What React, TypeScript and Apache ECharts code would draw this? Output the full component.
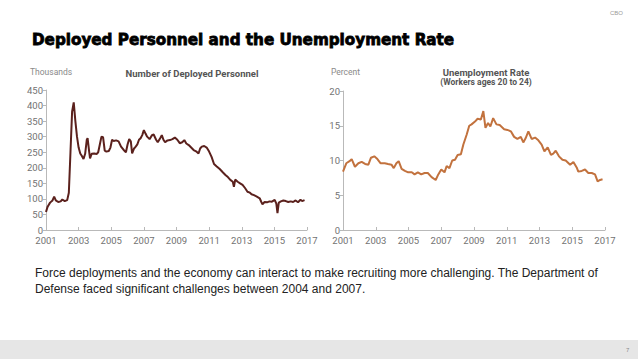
import React, { useEffect, useRef } from "react";
import * as echarts from "echarts";

// Deployed personnel (thousands), decimal year
const deployedYears = [
  2001.0, 2001.1, 2001.25, 2001.4, 2001.5, 2001.6, 2001.75, 2001.9, 2002.0, 2002.15, 2002.3, 2002.4, 2002.5, 2002.6,
  2002.7, 2002.8, 2002.9, 2003.0, 2003.1, 2003.2, 2003.3, 2003.4, 2003.5, 2003.55, 2003.65, 2003.7, 2003.8, 2003.95,
  2004.1, 2004.2, 2004.3, 2004.4, 2004.5, 2004.6, 2004.7, 2004.85, 2004.95, 2005.05, 2005.15, 2005.3, 2005.45, 2005.6,
  2005.75, 2005.9, 2006.0, 2006.1, 2006.2, 2006.28, 2006.4, 2006.5, 2006.6, 2006.7, 2006.8, 2006.9, 2007.0, 2007.1,
  2007.2, 2007.35, 2007.5, 2007.6, 2007.75, 2007.85, 2008.0, 2008.1, 2008.2, 2008.3, 2008.45, 2008.6, 2008.75, 2008.9,
  2009.05, 2009.2, 2009.35, 2009.48, 2009.6, 2009.75, 2009.9, 2010.05, 2010.2, 2010.35, 2010.45, 2010.55, 2010.7,
  2010.85, 2011.0, 2011.15, 2011.3, 2011.45, 2011.65, 2011.85, 2012.0, 2012.15, 2012.3, 2012.45, 2012.52, 2012.6,
  2012.75, 2012.9, 2013.05, 2013.2, 2013.35, 2013.5, 2013.6, 2013.75, 2013.9, 2014.1, 2014.2, 2014.27, 2014.4, 2014.55,
  2014.7, 2014.85, 2015.02, 2015.12, 2015.19, 2015.27, 2015.4, 2015.55, 2015.7, 2015.85, 2016.0, 2016.15, 2016.3,
  2016.45, 2016.6, 2016.7, 2016.85,
];
const deployedValues = [
  58, 75, 88, 95, 107, 95, 90, 92, 98, 93, 96, 120, 250, 380,
  410, 350, 300, 265, 246, 238, 228, 245, 290, 295, 250, 230, 245, 246,
  244, 250, 275, 300, 298, 255, 252, 254, 265, 290, 286, 288, 285, 268,
  258, 250, 275, 292, 285, 246, 262, 268, 275, 290, 295, 305, 321, 310,
  300, 292, 305, 307, 290, 282, 295, 305, 290, 282, 288, 289, 292, 297,
  290, 279, 282, 289, 278, 273, 265, 257, 253, 246, 262, 268, 270,
  265, 252, 235, 212, 205, 196, 185, 177, 170, 161, 155, 139, 162,
  155, 150, 145, 135, 123, 120, 115, 112, 108, 102, 90, 83, 90, 89,
  92, 91, 97, 85, 54, 88, 92, 95, 93, 90, 92, 90, 95,
  89, 97, 93, 96,
];

// Unemployment rate, workers ages 20 to 24 (percent)
const unempYears = [
  2001.0, 2001.2, 2001.4, 2001.53, 2001.73, 2001.94, 2002.14, 2002.35, 2002.55, 2002.71, 2002.91, 2003.1, 2003.3,
  2003.55, 2003.75, 2003.96, 2004.1, 2004.26, 2004.4, 2004.58, 2004.78, 2004.98, 2005.2, 2005.37, 2005.57, 2005.78,
  2005.98, 2006.18, 2006.41, 2006.66, 2006.82, 2007.0, 2007.2, 2007.33, 2007.5, 2007.67, 2007.84, 2008.0, 2008.2,
  2008.35, 2008.55, 2008.71, 2008.85, 2009.06, 2009.22, 2009.42, 2009.57, 2009.7, 2009.86, 2010.0, 2010.17, 2010.37,
  2010.57, 2010.84, 2011.04, 2011.25, 2011.45, 2011.65, 2011.86, 2012.01, 2012.15, 2012.32, 2012.52, 2012.73, 2012.93,
  2013.13, 2013.3, 2013.5, 2013.7, 2013.84, 2013.99, 2014.19, 2014.4, 2014.6, 2014.87, 2015.07, 2015.27, 2015.37,
  2015.58, 2015.78, 2015.98, 2016.19, 2016.39, 2016.55, 2016.7, 2016.85,
];
const unempValues = [
  8.4, 9.6, 9.9, 10.2, 9.1, 9.6, 9.8, 9.5, 9.4, 10.4, 10.6, 10.2, 9.6,
  9.6, 9.5, 9.4, 8.9, 9.6, 9.9, 8.8, 8.5, 8.3, 8.3, 8.0, 8.3, 8.0,
  8.2, 8.2, 7.6, 7.2, 8.0, 8.7, 8.3, 9.2, 8.9, 10.0, 10.1, 10.8, 10.9,
  12.3, 13.7, 15.0, 15.2, 15.6, 16.0, 15.9, 17.1, 14.7, 15.4, 14.9, 16.1, 15.2,
  15.1, 14.5, 14.4, 14.2, 13.4, 13.1, 13.4, 12.6, 13.2, 14.2, 13.1, 13.3, 12.9,
  12.3, 11.3, 11.9, 10.8, 11.0, 11.4, 10.6, 10.1, 10.0, 9.4, 9.8, 9.0, 8.4,
  8.5, 8.7, 8.2, 8.2, 8.0, 7.0, 7.2, 7.3,
];

const yearTicks = [2001, 2003, 2005, 2007, 2009, 2011, 2013, 2015, 2017];
const BASE_YEAR = yearTicks[0];

const axisGray = "#b9b9b9";
const labelGray = "#727272";

function xAxisFor(gridIndex: number) {
  return {
    type: "value",
    gridIndex,
    min: 0,
    max: yearTicks[yearTicks.length - 1] - BASE_YEAR,
    interval: 2,
    axisLine: { show: true, lineStyle: { color: axisGray, width: 1 } },
    axisTick: { show: true, inside: true, length: 3, lineStyle: { color: axisGray } },
    splitLine: { show: false },
    axisLabel: {
      color: labelGray,
      fontSize: 9.5,
      fontFamily: "Roboto",
      margin: 5,
      formatter: (v: number) => String(v + BASE_YEAR),
    },
  };
}

function yAxisFor(gridIndex: number, max: number, interval: number) {
  return {
    type: "value",
    gridIndex,
    min: 0,
    max,
    interval,
    axisLine: { show: true, lineStyle: { color: axisGray, width: 1 } },
    axisTick: { show: true, length: 3, lineStyle: { color: axisGray } },
    splitLine: { show: false },
    axisLabel: { color: labelGray, fontSize: 9.5, fontFamily: "Roboto", margin: 3 },
  };
}

export default function App() {
  const ref = useRef<HTMLDivElement>(null);
  useEffect(() => {
    document.body.style.margin = "0";
    const chart = echarts.init(ref.current!, undefined, { renderer: "svg" });
    const deployedData = deployedYears.map((y, i) => [y - BASE_YEAR, deployedValues[i]]);
    const unempData = unempYears.map((y, i) => [y - BASE_YEAR, unempValues[i]]);
    chart.setOption({
      animation: false,
      backgroundColor: "#ffffff",
      title: [
        {
          text: "Deployed Personnel and the Unemployment Rate",
          left: 27,
          top: 27,
          textStyle: {
            fontFamily: "DejaVu Sans",
            fontWeight: "bold",
            fontSize: 15.2,
            color: "#000",
            textBorderColor: "#000",
            textBorderWidth: 0.8,
          },
        },
        {
          text: "CBO",
          right: 10,
          top: 5,
          textStyle: { fontFamily: "Liberation Sans", fontSize: 6, color: "#9a9a9a", fontWeight: "normal" },
        },
      ],
      grid: [
        { left: 46, right: 331, top: 90, bottom: 129 },
        { left: 343, right: 33, top: 91, bottom: 129 },
      ],
      xAxis: [xAxisFor(0), xAxisFor(1)],
      yAxis: [yAxisFor(0, 450, 50), yAxisFor(1, 20, 5)],
      series: [
        {
          type: "line",
          xAxisIndex: 0,
          yAxisIndex: 0,
          data: deployedData,
          showSymbol: false,
          lineStyle: { color: "#5b211d", width: 2 },
        },
        {
          type: "line",
          xAxisIndex: 1,
          yAxisIndex: 1,
          data: unempData,
          showSymbol: false,
          lineStyle: { color: "#c2723e", width: 2 },
        },
      ],
      graphic: [
        {
          type: "text",
          x: 30,
          y: 72,
          style: { text: "Thousands", font: "8.5px Roboto", fill: "#8a8a8a", textVerticalAlign: "middle" },
        },
        {
          type: "text",
          x: 192,
          y: 73,
          style: {
            text: "Number of Deployed Personnel",
            font: "bold 9.5px Roboto",
            fill: "#555555",
            textAlign: "center",
            textVerticalAlign: "middle",
          },
        },
        {
          type: "text",
          x: 331,
          y: 72,
          style: { text: "Percent", font: "8.5px Roboto", fill: "#8a8a8a", textVerticalAlign: "middle" },
        },
        {
          type: "text",
          x: 486,
          y: 72,
          style: {
            text: "Unemployment Rate",
            font: "bold 9.5px Roboto",
            fill: "#555555",
            textAlign: "center",
            textVerticalAlign: "middle",
          },
        },
        {
          type: "text",
          x: 486,
          y: 82,
          style: {
            text: "(Workers ages 20 to 24)",
            font: "bold 8.5px Roboto",
            fill: "#555555",
            textAlign: "center",
            textVerticalAlign: "middle",
          },
        },
        {
          type: "text",
          x: 35,
          y: 273,
          style: {
            text: "Force deployments and the economy can interact to make recruiting more challenging. The Department of",
            font: "12px Liberation Sans",
            fill: "#222222",
            textVerticalAlign: "middle",
          },
        },
        {
          type: "text",
          x: 35,
          y: 289,
          style: {
            text: "Defense faced significant challenges between 2004 and 2007.",
            font: "12px Liberation Sans",
            fill: "#222222",
            textVerticalAlign: "middle",
          },
        },
        {
          type: "rect",
          shape: { x: 0, y: 340, width: 638, height: 19 },
          style: { fill: "#e6e6e6" },
        },
        {
          type: "text",
          x: 626,
          y: 350,
          style: { text: "7", font: "6px Liberation Sans", fill: "#8a8a8a", textVerticalAlign: "middle" },
        },
      ],
    });
    return () => chart.dispose();
  }, []);
  return <div ref={ref} style={{ width: 638, height: 359, position: "absolute", left: 0, top: 0 }} />;
}
